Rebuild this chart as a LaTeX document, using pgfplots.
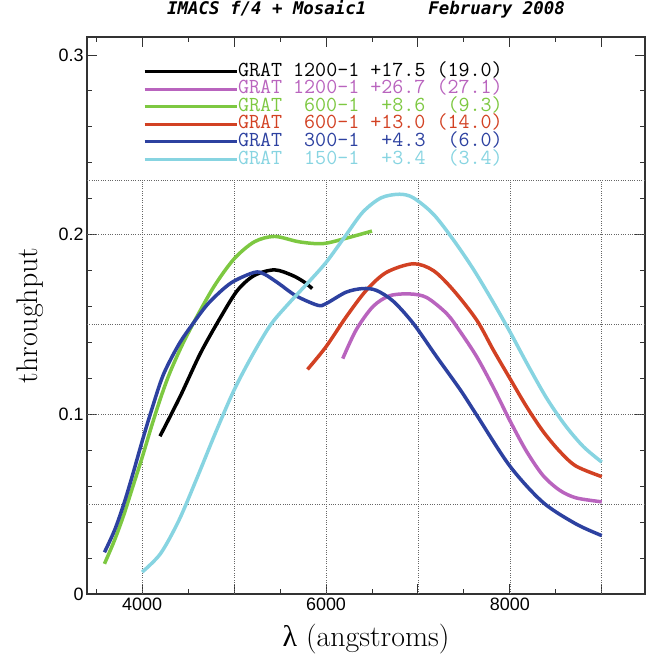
\documentclass[border=0pt]{standalone}
\usepackage{fontspec}
\usepackage{pgfplots}
\pgfplotsset{compat=1.18}
\newfontfamily\ticksf{Liberation Sans}
\newfontfamily\titlef{DejaVu Sans Mono}
\newfontfamily\greekf{Liberation Serif}

\definecolor{gmag}{RGB}{185,100,190}
\definecolor{ggreen}{RGB}{125,200,65}
\definecolor{gred}{RGB}{210,65,35}
\definecolor{gblue}{RGB}{45,65,160}
\definecolor{gcyan}{RGB}{135,212,225}

\begin{document}
\begin{tikzpicture}
\begin{axis}[
    scale only axis, width=558bp, height=557bp,
    xmin=3400, xmax=9470, ymin=0, ymax=0.31,
    axis line style={line width=1.2bp, black!80},
    xtick={4000,5000,6000,7000,8000,9000},
    xticklabels={4000,,6000,,8000,},
    minor xtick={3500,4500,5500,6500,7500,8500},
    ytick={0,0.1,0.2,0.3},
    yticklabels={0,0.1,0.2,0.3},
    minor ytick={0.02,0.04,0.06,0.08,0.12,0.14,0.16,0.18,0.22,0.24,0.26,0.28},
    tick align=inside, xtick pos=both, ytick pos=both,
    xticklabel pos=lower, yticklabel pos=left,
    major tick length=10bp, minor tick length=5bp,
    every tick/.style={black!80, line width=0.9bp},
    tick label style={font=\ticksf\fontsize{18}{18}\selectfont},
    /pgf/number format/assume math mode=true,
    xlabel={{\greekf λ} (angstroms)},
    ylabel={throughput},
    label style={font=\fontsize{30}{30}\selectfont},
    xlabel style={at={(axis description cs:0.5,-0.081)}, anchor=center},
    ylabel style={at={(axis description cs:-0.102,0.5)}, anchor=center},
    title={IMACS f/4 + Mosaic1\hspace{62bp}February 2008},
    title style={font=\titlef\bfseries\itshape\fontsize{17.5}{17.5}\selectfont,
        at={(axis description cs:0.5,1.0395)}, anchor=center},
    legend cell align=left,
    legend image code/.code={\draw[#1, line width=3bp] (0bp,0bp) -- (92bp,0bp);},
    legend style={at={(rel axis cs:0.1,0.95)}, anchor=north west,
        draw=none, fill=none, inner sep=0pt, row sep=4.6bp,
        font=\ttfamily\fontsize{21.5}{21.5}\selectfont,
        nodes={inner sep=0pt, text height=11bp, text depth=2bp},
        /tikz/every even column/.append style={column sep=7bp}},
    every axis plot/.append style={line width=3.5bp, smooth},
]
% grid: verticals stop at 0.23
\addplot[black!60, line width=0.6bp, dash pattern=on 0.7bp off 1.6bp,
    forget plot, sharp plot, unbounded coords=jump] coordinates {
    (4000,0) (4000,0.23) (4000,nan)
    (5000,0) (5000,0.23) (5000,nan)
    (6000,0) (6000,0.23) (6000,nan)
    (7000,0) (7000,0.23) (7000,nan)
    (8000,0) (8000,0.23) (8000,nan)
    (9000,0) (9000,0.23) (9000,nan)
    (3400,0.05) (9470,0.05) (9470,nan)
    (3400,0.10) (9470,0.10) (9470,nan)
    (3400,0.15) (9470,0.15) (9470,nan)
    (3400,0.20) (9470,0.20) (9470,nan)
    (3400,0.23) (9470,0.23)
};

\addplot[black] coordinates {
    (4194,0.0878) (4414,0.110) (4634,0.134) (4853,0.154) (5037,0.169)
    (5220,0.1773) (5440,0.1804) (5635,0.1773) (5763,0.1736) (5850,0.170)
};
\addlegendentry{GRAT\ 1200-1\ +17.5\ (19.0)}

\addplot[gmag] coordinates {
    (6182,0.131) (6328,0.147) (6511,0.160) (6693,0.166) (6912,0.167)
    (7095,0.165) (7314,0.156) (7460,0.146) (7640,0.132) (7820,0.1150)
    (8000,0.0965) (8180,0.0795) (8360,0.0660) (8540,0.0578) (8720,0.0535)
    (9000,0.0513)
};
\addlegendentry{\textcolor{gmag}{GRAT\ 1200-1\ +26.7\ (27.1)}}

\addplot[ggreen] coordinates {
    (3590,0.0168) (3700,0.030) (3800,0.044) (3900,0.060) (4000,0.076)
    (4100,0.093) (4200,0.109) (4300,0.123) (4430,0.138) (4560,0.151)
    (4780,0.171) (5000,0.1865) (5220,0.196) (5440,0.199) (5708,0.196)
    (5964,0.195) (6219,0.198) (6500,0.202)
};
\addlegendentry{\textcolor{ggreen}{GRAT\ \ 600-1\ \ +8.6\ \ (9.3)}}

\addplot[gred] coordinates {
    (5799,0.125) (6000,0.1376) (6219,0.1542) (6438,0.169) (6657,0.179)
    (6949,0.1838) (7168,0.180) (7387,0.169) (7640,0.1524) (7820,0.1358)
    (8000,0.120) (8180,0.1044) (8360,0.0906) (8540,0.0795) (8719,0.0712)
    (9000,0.0653)
};
\addlegendentry{\textcolor{gred}{GRAT\ \ 600-1\ +13.0\ (14.0)}}

\addplot[gblue] coordinates {
    (3590,0.0232) (3700,0.0355) (3800,0.050) (3900,0.067) (4000,0.085)
    (4100,0.102) (4230,0.122) (4400,0.139) (4560,0.151) (4725,0.162)
    (4963,0.173) (5220,0.179) (5330,0.178) (5489,0.1727) (5672,0.166)
    (5909,0.1607) (6000,0.1616) (6219,0.168) (6401,0.170) (6547,0.169)
    (6730,0.163) (6949,0.1506) (7204,0.132) (7460,0.1137) (7640,0.0995)
    (8000,0.0712) (8360,0.051) (8719,0.039) (9000,0.0325)
};
\addlegendentry{\textcolor{gblue}{GRAT\ \ 300-1\ \ +4.3\ \ (6.0)}}

\addplot[gcyan] coordinates {
    (4000,0.0122) (4200,0.0225) (4400,0.041) (4600,0.065) (4800,0.090)
    (5000,0.1135) (5200,0.133) (5400,0.150) (5600,0.162) (5800,0.173)
    (6000,0.1845) (6200,0.1985) (6400,0.2125) (6600,0.2205) (6800,0.2225)
    (6950,0.2205) (7168,0.2114) (7387,0.197) (7600,0.181) (7800,0.164)
    (8000,0.146) (8200,0.127) (8400,0.109) (8600,0.094) (8800,0.082)
    (9000,0.0734)
};
\addlegendentry{\textcolor{gcyan}{GRAT\ \ 150-1\ \ +3.4\ \ (3.4)}}

\coordinate (bl) at (rel axis cs:0,0);
\coordinate (tr) at (rel axis cs:1,1);
\end{axis}
\pgfresetboundingbox
\path ([shift={(-87bp,-64bp)}]bl) rectangle ([shift={(4bp,37bp)}]tr);
\end{tikzpicture}
\end{document}
